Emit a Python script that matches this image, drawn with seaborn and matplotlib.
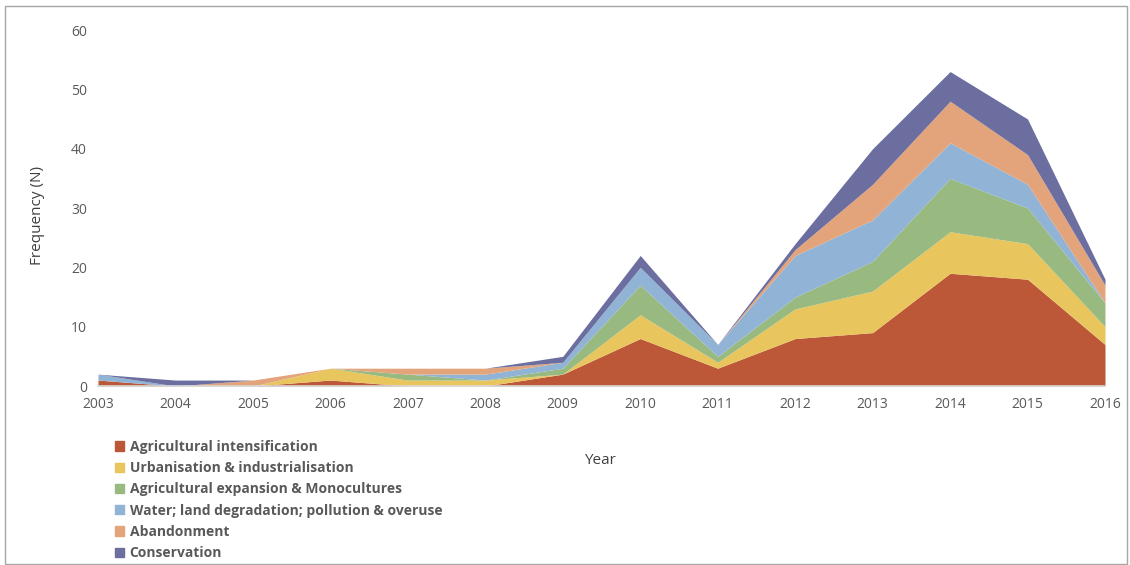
import matplotlib
matplotlib.use("Agg")
import matplotlib.pyplot as plt
import seaborn as sns
import numpy as np
from matplotlib.patches import Rectangle

years = [2003, 2004, 2005, 2006, 2007, 2008, 2009, 2010, 2011, 2012, 2013, 2014, 2015, 2016]
agri_intensification = [1, 0, 0, 1, 0, 0, 2, 8, 3, 8, 9, 19, 18, 7]
urbanisation = [0, 0, 0, 2, 1, 1, 0, 4, 1, 5, 7, 7, 6, 3]
agri_expansion = [0, 0, 0, 0, 1, 0, 1, 5, 1, 2, 5, 9, 6, 4]
water_land = [1, 0, 0, 0, 0, 1, 1, 3, 2, 7, 7, 6, 4, 0]
abandonment = [0, 0, 1, 0, 1, 1, 0, 0, 0, 1, 6, 7, 5, 3]
conservation = [0, 1, 0, 0, 0, 0, 1, 2, 0, 1, 6, 5, 6, 1]

labels = ["Agricultural intensification", "Urbanisation & industrialisation",
          "Agricultural expansion & Monocultures",
          "Water; land degradation; pollution & overuse", "Abandonment", "Conservation"]
colors = ["#BC5837", "#E9C55E", "#98BA80", "#91B4D6", "#E3A47B", "#6B6E9E"]

sns.set_theme(style="white")
plt.rcParams['font.family'] = ['Open Sans', 'DejaVu Sans']

fig = plt.figure(figsize=(11.3, 5.65), dpi=100)
ax = fig.add_axes([98/1130, 1-386/565, (1105-98)/1130, (386-30)/565])

series = [agri_intensification, urbanisation, agri_expansion, water_land, abandonment, conservation]
polys = ax.stackplot(years, *series, colors=colors, labels=labels, linewidth=0)

ax.set_xlim(2003, 2016)
ax.set_ylim(0, 60)
ax.set_xticks(years)
ax.set_xticklabels([str(y) for y in years])
ax.set_yticks(range(0, 61, 10))
ax.tick_params(axis='both', colors="#595959", labelsize=10, length=0, pad=8)
for s in ["top", "right", "left"]:
    ax.spines[s].set_visible(False)
ax.spines["bottom"].set_color("#D9D9D9")
ax.spines["bottom"].set_linewidth(1.2)
ax.set_ylabel("Frequency (N)", fontsize=11, color="#404040")
ax.yaxis.set_label_coords(-0.053, 0.48)
fig.text(600/1130, 1-461/565, "Year", fontsize=11, color="#404040", ha="center", va="center")

handles = [Rectangle((0, 0), 1, 1, color=c) for c in colors]
leg = fig.legend(handles, labels, loc="upper left", bbox_to_anchor=(115/1130, 1-440/565),
                 frameon=False, prop={"weight": "bold", "size": 10}, labelcolor="#595959",
                 handlelength=0.65, handleheight=0.65, handletextpad=0.4, labelspacing=0.52,
                 borderaxespad=0, borderpad=0)

fig.patches.append(Rectangle((5/1130, 0.002), 1122/1130, 1-7/565, transform=fig.transFigure,
                             fill=False, edgecolor="#A6A6A6", linewidth=1))

fig.savefig("out.png", dpi=100)
